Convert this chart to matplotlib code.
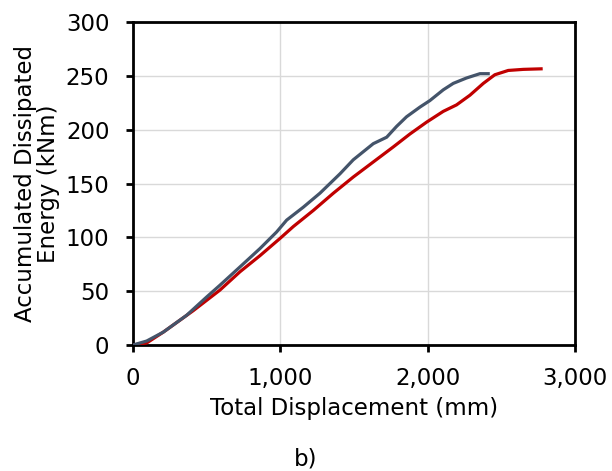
import matplotlib
matplotlib.use("Agg")
import matplotlib.pyplot as plt
from matplotlib.ticker import FuncFormatter

# accumulated dissipated energy vs total displacement, two specimens
disp_gray = [0, 93, 206, 364, 500, 590, 726, 862, 975, 1043, 1156, 1269, 1405,
             1495, 1631, 1722, 1789, 1857, 1948, 2015, 2106, 2174, 2264, 2355, 2411]
energy_gray = [0, 3.7, 12, 27.6, 44.6, 55.5, 72.5, 89.6, 105, 116, 128, 141, 159,
               172, 187, 193, 203, 212, 221, 227, 237, 243, 248, 252, 252]

disp_red = [0, 93, 206, 410, 590, 726, 862, 998, 1088, 1224, 1360, 1495, 1631,
            1767, 1880, 1993, 2106, 2196, 2287, 2378, 2456, 2547, 2649, 2770]
energy_red = [0, 1.9, 12, 32, 51, 68, 83, 99, 110, 125, 141, 156, 170,
              184, 196, 207, 217, 223, 232, 243, 251, 255, 256, 256.5]

x_ticks = [0, 1000, 2000, 3000]
y_ticks = [0, 50, 100, 150, 200, 250, 300]

plt.rcParams['font.family'] = ['DejaVu Sans']
FS = 16.5

fig = plt.figure(figsize=(6.12, 4.71), dpi=100)
ax = fig.add_axes([0.2173, 0.2675, 0.7222, 0.6858])

ax.plot(disp_red, energy_red, color='#C00000', lw=2.3, zorder=3)
ax.plot(disp_gray, energy_gray, color='#44546A', lw=2.3, zorder=4)

ax.set_xlim(0, 3000)
ax.set_ylim(0, 300)
ax.set_xticks(x_ticks)
ax.set_yticks(y_ticks)
ax.xaxis.set_major_formatter(FuncFormatter(lambda v, p: f"{int(v):,}"))
ax.grid(True, color='#d9d9d9', lw=1.0)
ax.set_axisbelow(True)

for s in ax.spines.values():
    s.set_linewidth(2.0)
    s.set_color('black')
ax.tick_params(direction='out', length=5, width=2, labelsize=FS)
ax.tick_params(axis='y', pad=12)
ax.tick_params(axis='x', pad=11)

ax.set_xlabel('Total Displacement (mm)', fontsize=FS, labelpad=5)
ax.set_ylabel('Accumulated Dissipated\nEnergy (kNm)', fontsize=FS,
              labelpad=4, linespacing=1.0)

fig.text(0.50, 0.025, 'b)', fontsize=FS, ha='center', va='center')

fig.savefig('out.png', dpi=100)
